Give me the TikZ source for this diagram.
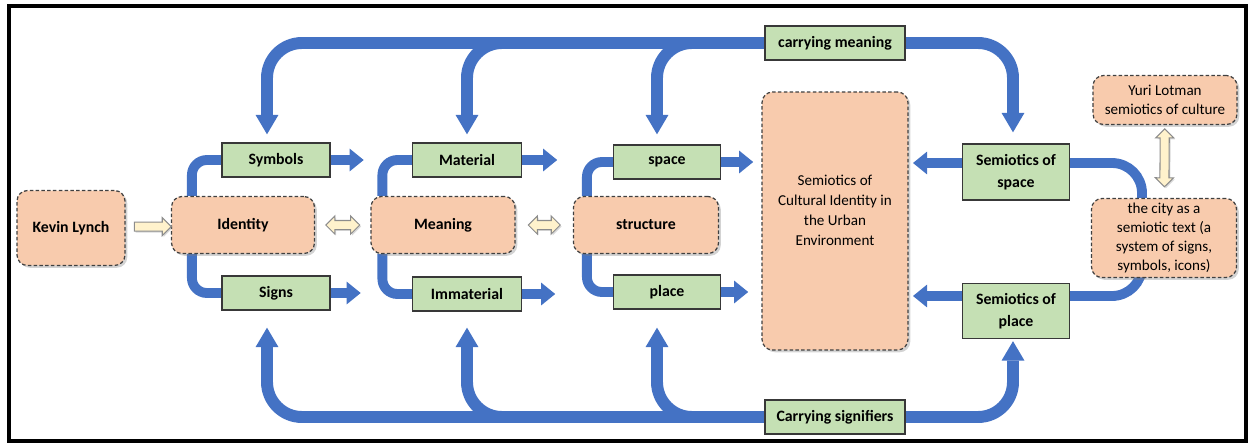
\documentclass[tikz,border=0pt]{standalone}
\usepackage{fontspec}
\setmainfont{Carlito}
\usepackage{tikz}
\usetikzlibrary{arrows.meta,positioning,calc,shadows,backgrounds,shapes.arrows}
\definecolor{flowblue}{HTML}{4472C4}
\definecolor{obox}{HTML}{F8CBAD}
\definecolor{gbox}{HTML}{C5E0B4}
\definecolor{cream}{HTML}{FFF2CC}

\begin{document}
\begin{tikzpicture}
[x=0.02cm,y=-0.02cm,
ob/.style={draw=black!75,dash pattern=on 2pt off 1.3pt,line width=0.7pt,fill=obox,rounded corners=6pt,
  align=center,drop shadow={shadow xshift=1.3pt,shadow yshift=-1.3pt,opacity=0.35}},
gb/.style={draw=black!78,fill=gbox,line width=0.8pt,align=center,font=\fontsize{9}{12.5}\selectfont\bfseries},
bigflow/.style={draw=flowblue,line width=6.8pt,rounded corners=0.7cm,-{Triangle[width=13pt,length=11pt,line width=0pt]}},
flow/.style={draw=flowblue,line width=5.6pt,-{Triangle[width=13pt,length=8pt,line width=0pt]}},
curl/.style={draw=flowblue,line width=5.6pt,rounded corners=0.3cm},
sarr/.style={single arrow,draw=black!45,fill=cream,line width=0.6pt,inner xsep=0pt,inner ysep=0.08cm,minimum width=0pt,
  single arrow head extend=0.09cm,single arrow tip angle=90,
  drop shadow={shadow xshift=0.8pt,shadow yshift=-0.8pt,opacity=0.3}},
darr/.style={double arrow,draw=black!45,fill=cream,line width=0.6pt,inner xsep=0pt,inner ysep=0.08cm,minimum width=0pt,
  double arrow head extend=0.09cm,double arrow tip angle=90,
  drop shadow={shadow xshift=0.8pt,shadow yshift=-0.8pt,opacity=0.3}}]
\useasboundingbox (0,0) rectangle (1249,443);
\draw[line width=2pt] (9,6) rectangle (1246,441);

% orange boxes
\node[ob,minimum width=2.16cm,minimum height=1.5cm,font=\fontsize{9}{11}\selectfont\bfseries] (kevin) at (71,228) {Kevin Lynch};
\node[ob,minimum width=2.86cm,minimum height=1.14cm,font=\fontsize{9}{11}\selectfont\bfseries] (identity) at (243,225) {Identity};
\node[ob,minimum width=2.88cm,minimum height=1.14cm,font=\fontsize{9}{11}\selectfont\bfseries] (meaning) at (443,225) {Meaning};
\node[ob,minimum width=2.9cm,minimum height=1.14cm,font=\fontsize{9}{11}\selectfont\bfseries] (structure) at (646,225) {structure};
\node[ob,minimum width=2.92cm,minimum height=5.16cm,font=\fontsize{8.6}{11.4}\selectfont] (urban) at (835,221)
  {Semiotics of\\Cultural Identity in\\the Urban\\Environment\\[1pt]};
\node[ob,minimum width=2.88cm,minimum height=0.98cm,font=\fontsize{8.6}{10.8}\selectfont] (yuri) at (1165,100) {Yuri Lotman\\semiotics of culture};
\node[ob,minimum width=2.9cm,minimum height=1.58cm,inner sep=0pt,font=\fontsize{8.6}{10.8}\selectfont] (city) at (1164,238)
  {the city as a\\semiotic text (a\\system of signs,\\symbols, icons)};

% green boxes
\node[gb,minimum width=2.16cm,minimum height=0.68cm] (symbols) at (276,160) {Symbols};
\node[gb,minimum width=2.16cm,minimum height=0.68cm] (signs) at (276,293) {Signs};
\node[gb,minimum width=2.18cm,minimum height=0.68cm] (material) at (467,160) {Material};
\node[gb,minimum width=2.18cm,minimum height=0.68cm] (immaterial) at (467,294) {Immaterial};
\node[gb,minimum width=2.14cm,minimum height=0.68cm] (space) at (667,162) {space};
\node[gb,minimum width=2.14cm,minimum height=0.68cm] (place) at (667,292) {place};
\node[gb,minimum width=2.8cm,minimum height=0.68cm] (carmean) at (835,43) {carrying meaning};
\node[gb,minimum width=2.8cm,minimum height=0.68cm] (carsig) at (835,417) {Carrying signifiers};
\node[gb,minimum width=2.14cm,minimum height=1.12cm] (semspace) at (1016,172) {Semiotics of\\space};
\node[gb,minimum width=2.14cm,minimum height=1.1cm] (semplace) at (1016,311) {Semiotics of\\place};

\coordinate (symbols-out) at ([xshift=0.66cm]symbols.east);
\coordinate (signs-out) at ([xshift=0.6cm]signs.east);
\coordinate (material-out) at ([xshift=0.7cm]material.east);
\coordinate (immaterial-out) at ([xshift=0.66cm]immaterial.east);
\coordinate (space-out) at ([xshift=0.64cm]space.east);
\coordinate (place-out) at ([xshift=0.54cm]place.east);
\coordinate (urban-in1) at (913,163);
\coordinate (urban-in2) at (913,296);

\begin{scope}[on background layer]
% carrying meaning, top
\draw[bigflow] (carmean.west) -| ([xshift=-0.18cm,yshift=0.16cm]symbols.north);
\draw[bigflow] (carmean.west) -| ([yshift=0.16cm]material.north);
\draw[bigflow] (carmean.west) -| ([xshift=-0.2cm,yshift=0.2cm]space.north);
\draw[bigflow] (carmean.east) -| ([xshift=-0.06cm,yshift=0.22cm]semspace.north);
% carrying signifiers, bottom
\draw[bigflow] (carsig.west) -| ([xshift=-0.18cm,yshift=-0.34cm]signs.south);
\draw[bigflow] (carsig.west) -| ([yshift=-0.32cm]immaterial.south);
\draw[bigflow] (carsig.west) -| ([xshift=-0.2cm,yshift=-0.36cm]place.south);
\draw[bigflow] (carsig.east) -| ([xshift=-0.06cm,yshift=-0.04cm]semplace.south);
% branches round the orange boxes
\draw[curl] (symbols.west) -| ([xshift=0.42cm]identity.north west);
\draw[curl] ([xshift=0.42cm]identity.south west) |- (signs.west);
\draw[curl] (material.west) -| ([xshift=0.24cm]meaning.north west);
\draw[curl] ([xshift=0.24cm]meaning.south west) |- (immaterial.west);
\draw[curl] (space.west) -| ([xshift=0.28cm]structure.north west);
\draw[curl] ([xshift=0.28cm]structure.south west) |- (place.west);
\draw[curl,rounded corners=0.6cm] ([yshift=0.18cm]semspace.east) -| ([xshift=-0.44cm]city.north);
\draw[curl,rounded corners=0.6cm] ([xshift=-0.44cm]city.south) |- ([yshift=0.3cm]semplace.east);
\end{scope}

\draw[flow] (symbols.east) -- (symbols-out);
\draw[flow] (signs.east) -- (signs-out);
\draw[flow] (material.east) -- (material-out);
\draw[flow] (immaterial.east) -- (immaterial-out);
\draw[flow] (space.east) -- (space-out);
\draw[flow] (place.east) -- (place-out);
\draw[flow] ([yshift=0.18cm]semspace.west) -- (urban-in1);
\draw[flow] ([yshift=0.3cm]semplace.west) -- (urban-in2);

\path (kevin) -- node[sarr,minimum height=0.74cm,pos=0.55] (ka) {} (identity);
\path (identity) -- node[darr,minimum height=0.68cm] (im) {} (meaning);
\path (meaning) -- node[darr,minimum height=0.64cm] (ms) {} (structure);
\path (yuri) -- node[darr,minimum height=1.16cm,sloped,pos=0.45] (yc) {} (city);
\end{tikzpicture}
\end{document}
